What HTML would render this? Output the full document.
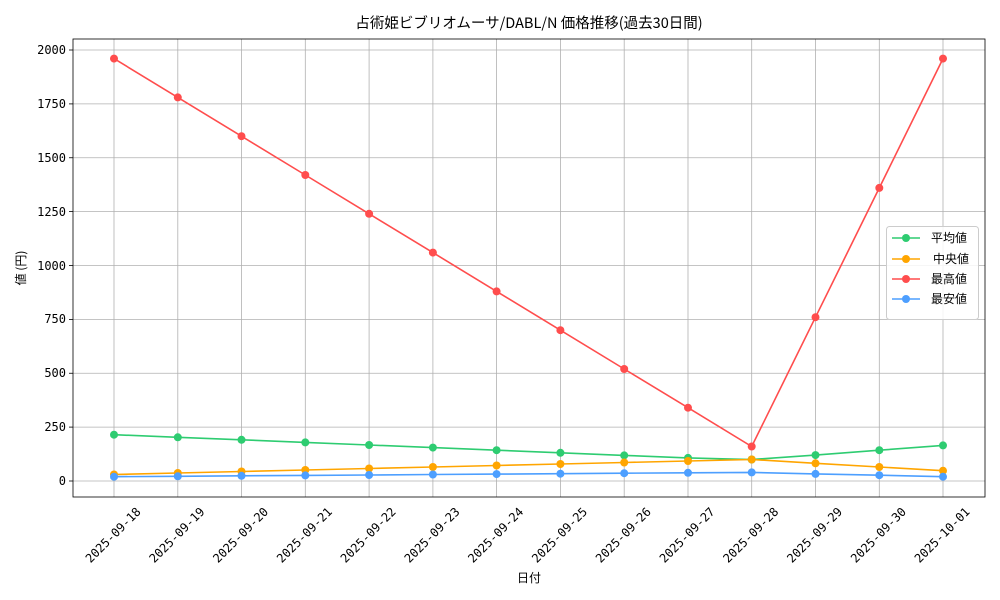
<!DOCTYPE html>
<html><head><meta charset="utf-8"><style>body{margin:0;background:#fff}svg{display:block}text{font-family:"DejaVu Sans Mono","Liberation Mono","Noto Sans CJK JP",monospace;font-size:12px;fill:#000}</style></head><body>
<svg width="1000" height="600" xmlns="http://www.w3.org/2000/svg">
<rect width="1000" height="600" fill="#fff"/>
<text x="529" y="28" text-anchor="middle" style="font-size:14.5px;font-family:'Noto Sans CJK JP',monospace">占術姫ビブリオムーサ/DABL/N 価格推移(過去30日間)</text>
<g stroke="#b0b0b0" stroke-width="0.8">
<line x1="114" y1="39" x2="114" y2="497"/><line x1="177.8" y1="39" x2="177.8" y2="497"/><line x1="241.5" y1="39" x2="241.5" y2="497"/><line x1="305.3" y1="39" x2="305.3" y2="497"/><line x1="369.1" y1="39" x2="369.1" y2="497"/><line x1="432.9" y1="39" x2="432.9" y2="497"/><line x1="496.6" y1="39" x2="496.6" y2="497"/><line x1="560.4" y1="39" x2="560.4" y2="497"/><line x1="624.2" y1="39" x2="624.2" y2="497"/><line x1="688" y1="39" x2="688" y2="497"/><line x1="751.7" y1="39" x2="751.7" y2="497"/><line x1="815.5" y1="39" x2="815.5" y2="497"/><line x1="879.3" y1="39" x2="879.3" y2="497"/><line x1="943" y1="39" x2="943" y2="497"/>
<line x1="73" y1="481" x2="985" y2="481"/><line x1="73" y1="427.1" x2="985" y2="427.1"/><line x1="73" y1="373.25" x2="985" y2="373.25"/><line x1="73" y1="319.4" x2="985" y2="319.4"/><line x1="73" y1="265.5" x2="985" y2="265.5"/><line x1="73" y1="211.6" x2="985" y2="211.6"/><line x1="73" y1="157.75" x2="985" y2="157.75"/><line x1="73" y1="103.9" x2="985" y2="103.9"/><line x1="73" y1="50" x2="985" y2="50"/>
</g>
<rect x="73" y="39" width="912" height="458" fill="none" stroke="#000" stroke-width="0.8"/>
<g stroke="#000" stroke-width="0.8">
<line x1="69" y1="481" x2="73" y2="481"/><line x1="69" y1="427.1" x2="73" y2="427.1"/><line x1="69" y1="373.25" x2="73" y2="373.25"/><line x1="69" y1="319.4" x2="73" y2="319.4"/><line x1="69" y1="265.5" x2="73" y2="265.5"/><line x1="69" y1="211.6" x2="73" y2="211.6"/><line x1="69" y1="157.75" x2="73" y2="157.75"/><line x1="69" y1="103.9" x2="73" y2="103.9"/><line x1="69" y1="50" x2="73" y2="50"/>
</g>
<g text-anchor="end">
<text x="66" y="485">0</text><text x="66" y="431">250</text><text x="66" y="377">500</text><text x="66" y="323">750</text><text x="66" y="270">1000</text><text x="66" y="216">1250</text><text x="66" y="162">1500</text><text x="66" y="108">1750</text><text x="66" y="54">2000</text>
</g>
<g text-anchor="middle">
<text transform="translate(116,538) rotate(-45)">2025-09-18</text><text transform="translate(179.8,538) rotate(-45)">2025-09-19</text><text transform="translate(243.5,538) rotate(-45)">2025-09-20</text><text transform="translate(307.3,538) rotate(-45)">2025-09-21</text><text transform="translate(371.1,538) rotate(-45)">2025-09-22</text><text transform="translate(434.9,538) rotate(-45)">2025-09-23</text><text transform="translate(498.6,538) rotate(-45)">2025-09-24</text><text transform="translate(562.4,538) rotate(-45)">2025-09-25</text><text transform="translate(626.2,538) rotate(-45)">2025-09-26</text><text transform="translate(690,538) rotate(-45)">2025-09-27</text><text transform="translate(753.7,538) rotate(-45)">2025-09-28</text><text transform="translate(817.5,538) rotate(-45)">2025-09-29</text><text transform="translate(881.3,538) rotate(-45)">2025-09-30</text><text transform="translate(945,538) rotate(-45)">2025-10-01</text>
</g>
<text x="529" y="582" text-anchor="middle" style="font-family:'Noto Sans CJK JP',monospace">日付</text>
<text transform="translate(25,268) rotate(-90)" text-anchor="middle" style="font-family:'Noto Sans CJK JP',monospace">値 (円)</text>
<g fill="none" stroke-width="1.6">
<polyline stroke="#2ecc71" points="114,434.7 177.8,437.3 241.5,439.8 305.3,442.4 369.1,445 432.9,447.6 496.6,450.2 560.4,452.8 624.2,455.4 688,457.9 751.7,459.5 815.5,455.1 879.3,450.2 943,445.4"/>
<polyline stroke="#ffa500" points="114,474.5 177.8,473 241.5,471.5 305.3,470 369.1,468.5 432.9,467 496.6,465.5 560.4,464 624.2,462.5 688,461 751.7,459.5 815.5,463.3 879.3,467 943,470.7"/>
<polyline stroke="#ff4d4d" points="114,58.6 177.8,97.4 241.5,136.2 305.3,175 369.1,213.8 432.9,252.6 496.6,291.4 560.4,330.2 624.2,369 688,407.7 751.7,446.5 815.5,317.2 879.3,187.9 943,58.6"/>
<polyline stroke="#4d9fff" points="114,476.7 177.8,476.3 241.5,475.8 305.3,475.4 369.1,475 432.9,474.5 496.6,474.1 560.4,473.7 624.2,473.2 688,472.8 751.7,472.4 815.5,473.9 879.3,475.2 943,476.7"/>
</g>
<g fill="#2ecc71"><circle cx="114" cy="434.7" r="4"/><circle cx="177.8" cy="437.3" r="4"/><circle cx="241.5" cy="439.8" r="4"/><circle cx="305.3" cy="442.4" r="4"/><circle cx="369.1" cy="445" r="4"/><circle cx="432.9" cy="447.6" r="4"/><circle cx="496.6" cy="450.2" r="4"/><circle cx="560.4" cy="452.8" r="4"/><circle cx="624.2" cy="455.4" r="4"/><circle cx="688" cy="457.9" r="4"/><circle cx="751.7" cy="459.5" r="4"/><circle cx="815.5" cy="455.1" r="4"/><circle cx="879.3" cy="450.2" r="4"/><circle cx="943" cy="445.4" r="4"/></g>
<g fill="#ffa500"><circle cx="114" cy="474.5" r="4"/><circle cx="177.8" cy="473" r="4"/><circle cx="241.5" cy="471.5" r="4"/><circle cx="305.3" cy="470" r="4"/><circle cx="369.1" cy="468.5" r="4"/><circle cx="432.9" cy="467" r="4"/><circle cx="496.6" cy="465.5" r="4"/><circle cx="560.4" cy="464" r="4"/><circle cx="624.2" cy="462.5" r="4"/><circle cx="688" cy="461" r="4"/><circle cx="751.7" cy="459.5" r="4"/><circle cx="815.5" cy="463.3" r="4"/><circle cx="879.3" cy="467" r="4"/><circle cx="943" cy="470.7" r="4"/></g>
<g fill="#ff4d4d"><circle cx="114" cy="58.6" r="4"/><circle cx="177.8" cy="97.4" r="4"/><circle cx="241.5" cy="136.2" r="4"/><circle cx="305.3" cy="175" r="4"/><circle cx="369.1" cy="213.8" r="4"/><circle cx="432.9" cy="252.6" r="4"/><circle cx="496.6" cy="291.4" r="4"/><circle cx="560.4" cy="330.2" r="4"/><circle cx="624.2" cy="369" r="4"/><circle cx="688" cy="407.7" r="4"/><circle cx="751.7" cy="446.5" r="4"/><circle cx="815.5" cy="317.2" r="4"/><circle cx="879.3" cy="187.9" r="4"/><circle cx="943" cy="58.6" r="4"/></g>
<g fill="#4d9fff"><circle cx="114" cy="476.7" r="4"/><circle cx="177.8" cy="476.3" r="4"/><circle cx="241.5" cy="475.8" r="4"/><circle cx="305.3" cy="475.4" r="4"/><circle cx="369.1" cy="475" r="4"/><circle cx="432.9" cy="474.5" r="4"/><circle cx="496.6" cy="474.1" r="4"/><circle cx="560.4" cy="473.7" r="4"/><circle cx="624.2" cy="473.2" r="4"/><circle cx="688" cy="472.8" r="4"/><circle cx="751.7" cy="472.4" r="4"/><circle cx="815.5" cy="473.9" r="4"/><circle cx="879.3" cy="475.2" r="4"/><circle cx="943" cy="476.7" r="4"/></g>
<rect x="886.5" y="226.5" width="92" height="93" rx="3" fill="#fff" fill-opacity="0.85" stroke="#ccc"/>
<g stroke-width="1.6">
<line x1="892" y1="238" x2="920" y2="238" stroke="#2ecc71"/><circle cx="906" cy="238" r="4" fill="#2ecc71"/>
<line x1="892" y1="259" x2="920" y2="259" stroke="#ffa500"/><circle cx="906" cy="259" r="4" fill="#ffa500"/>
<line x1="892" y1="279" x2="920" y2="279" stroke="#ff4d4d"/><circle cx="906" cy="279" r="4" fill="#ff4d4d"/>
<line x1="892" y1="299" x2="920" y2="299" stroke="#4d9fff"/><circle cx="906" cy="299" r="4" fill="#4d9fff"/>
</g>
<g style="font-family:'Noto Sans CJK JP',monospace">
<text x="931" y="242">平均値</text><text x="933" y="263">中央値</text><text x="931" y="283">最高値</text><text x="931" y="303">最安値</text>
</g>
</svg>
</body></html>
